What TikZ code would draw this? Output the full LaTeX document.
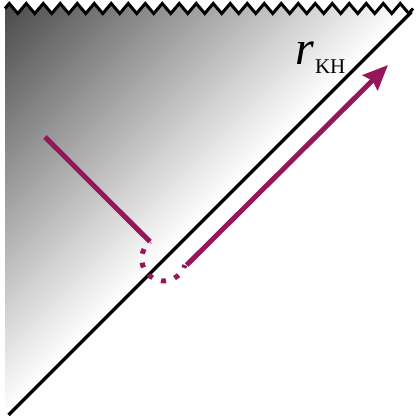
\documentclass[tikz,border=0pt]{standalone}
\usepackage{fontspec}
\setmainfont{Liberation Serif}
\usetikzlibrary{arrows.meta,decorations.pathmorphing}
\definecolor{worldline}{RGB}{150,22,92}
\pgfdeclareverticalshading{interior}{100bp}{color(0bp)=(white); color(50bp)=(white); color(85.4bp)=(black!71); color(100bp)=(black!71)}
\begin{document}
\begin{tikzpicture}[x=1pt,y=1pt,
    singularity/.style={line width=3pt, decorate, decoration={zigzag, segment length=17pt, amplitude=5pt}},
    horizon/.style={line width=3.2pt},
    infall/.style={worldline, line width=5pt}]
    \useasboundingbox (0,0) rectangle (416,418);
    % corners of the region
    \coordinate (nw) at (5,409.5);
    \coordinate (zigend) at (413,409.5);
    \coordinate (sw) at (8.5,3);
    \coordinate (ne) at (411.5,406);
    % interior of the hole
    \shade[shading=interior, shading angle=45] (5,0) -- (nw) decorate[decoration={zigzag, segment length=17pt, amplitude=5pt}] {-- (zigend)} -- (ne) -- (5.5,0) -- cycle;
    \draw[horizon] (sw) -- (ne);
    \draw[singularity] (nw) -- (zigend);
    \node[anchor=base west, inner sep=0pt] (rKH) at (295.5,353) {\fontsize{48}{48}\selectfont\textit{r}\kern0.5pt\raisebox{-9pt}{\fontsize{21}{21}\selectfont KH}};
    % the worldline
    \coordinate (start) at (45,281);
    \coordinate (turn) at (150,176.3);
    \coordinate (exit) at (186.7,153);
    \coordinate (tip) at (388,353);
    \draw[infall] (start) -- (turn);
    \draw[infall, dash pattern=on 5pt off 9pt, dash phase=4.5pt] (turn) arc[start angle=128.6, end angle=343.5, radius=22];
    \draw[infall, -{Stealth[length=25pt, width=21pt, inset=3pt]}] (exit) -- (tip);
\end{tikzpicture}
\end{document}
